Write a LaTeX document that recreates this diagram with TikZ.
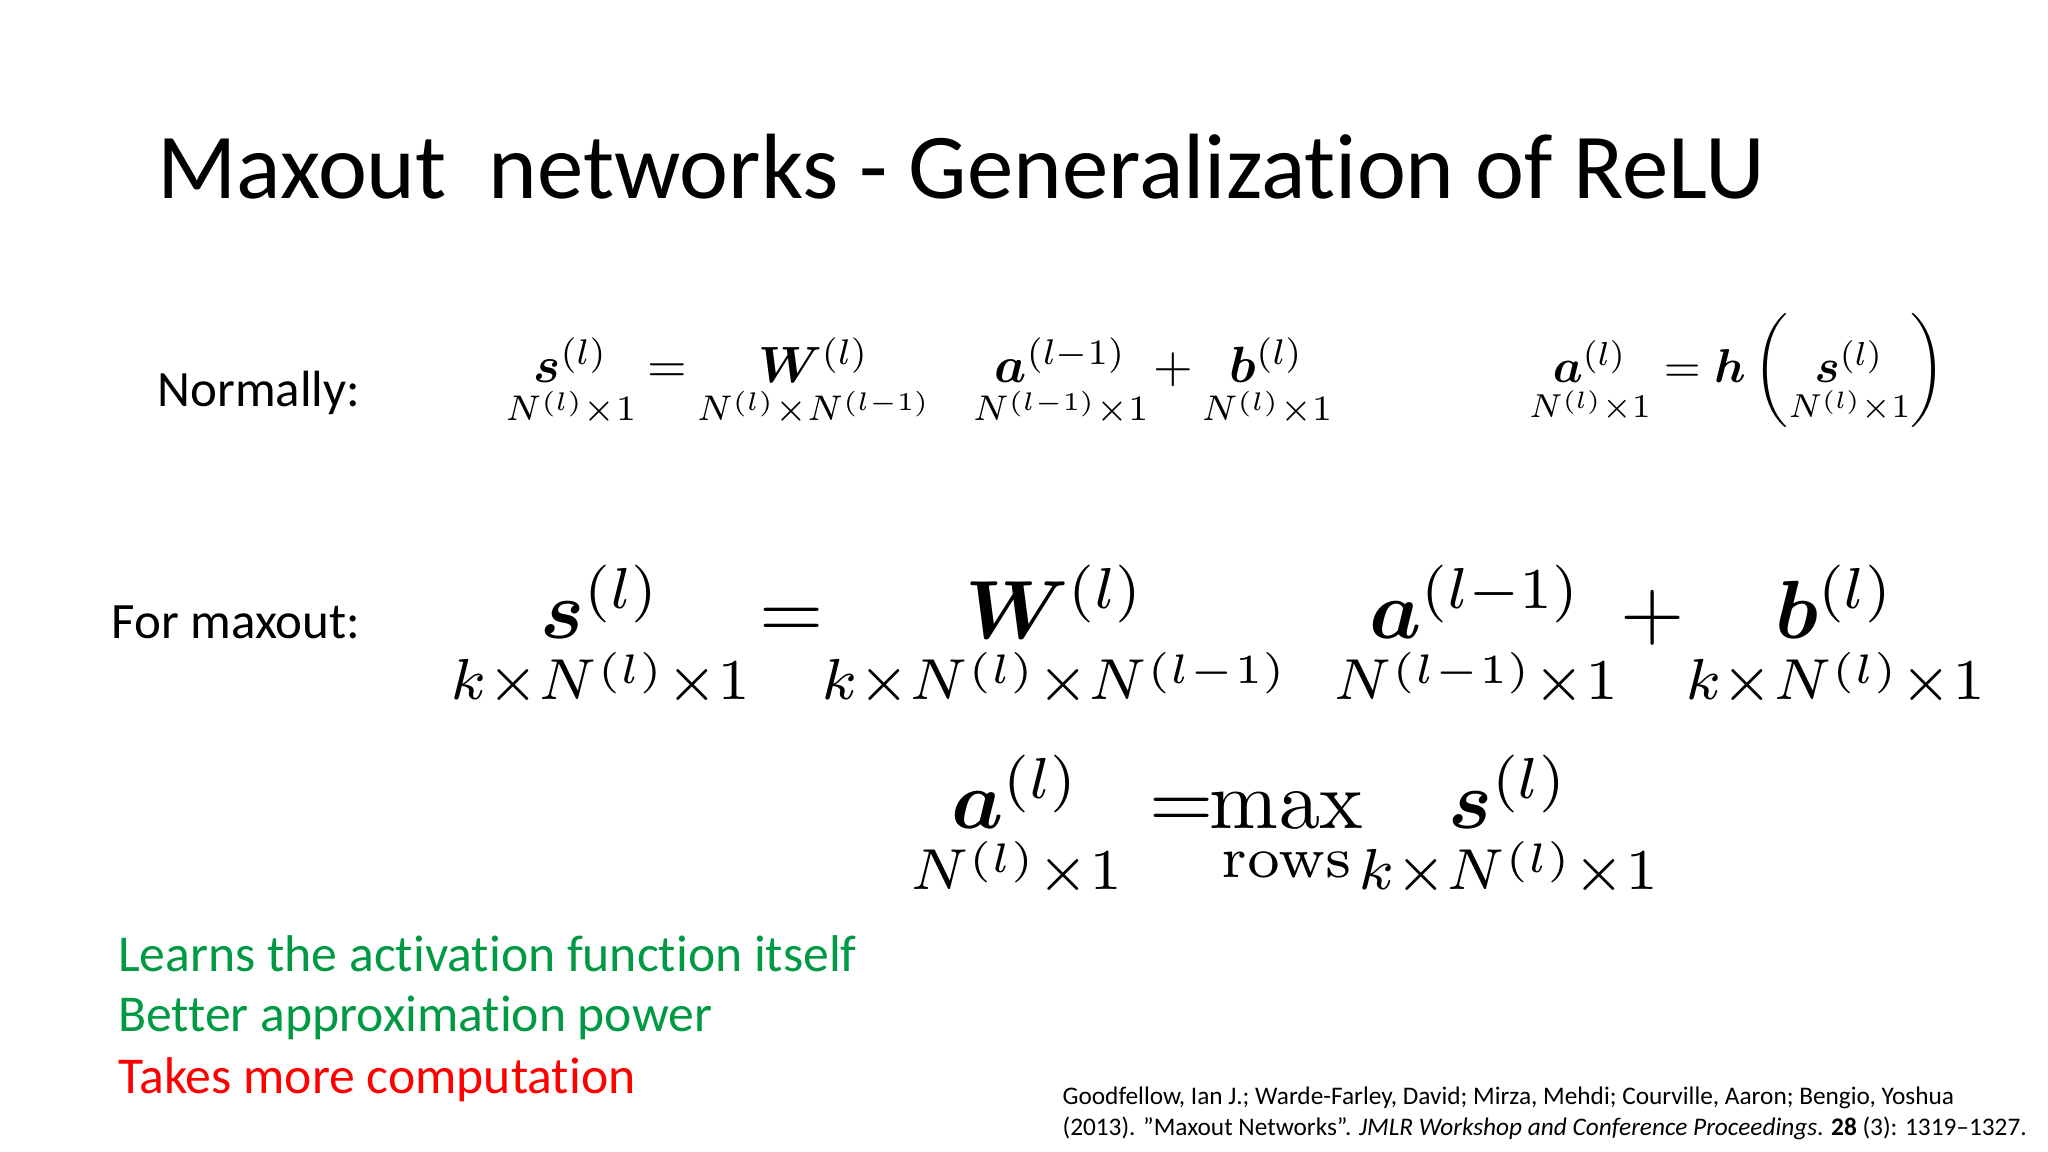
\documentclass[tikz,border=0pt]{standalone}
\usepackage{amsmath,bm,graphicx}
\usepackage[no-math]{fontspec}
\setmainfont[RawFeature=-liga]{Carlito}
\definecolor{goodgreen}{RGB}{0,153,68}
\definecolor{badred}{RGB}{255,0,0}
\begin{document}
\begin{tikzpicture}[x=0.013061cm,y=-0.013061cm,
  txt/.style={anchor=base west,inner sep=0pt},
  mth/.style={anchor=base,inner sep=0pt}]
\useasboundingbox[fill=white] (0,0) rectangle (1568,882);
\node[txt,font=\fontsize{26.4}{32}\selectfont] (title) at (120,152) {Maxout\ \ networks - Generalization of ReLU};
\node[txt,font=\fontsize{14.5}{18}\selectfont] (norm) at (120,311) {Normally:};
\node[txt,font=\fontsize{14.5}{18}\selectfont] (maxo) at (85,489) {For maxout:};
% normal row
\newcommand{\ns}[1]{\scalebox{1.45}{$#1$}}
\node[mth] (n1) at (437,293) {\ns{\underset{N^{(l)}\times 1}{\bm{s}^{(l)}}}};
\node[mth] (n2) at (511,293) {\ns{=}};
\node[mth] (n3) at (623,293) {\ns{\underset{N^{(l)}\times N^{(l-1)}}{\bm{W}^{(l)}}}};
\node[mth] (n4) at (812,293) {\ns{\underset{N^{(l-1)}\times 1}{\bm{a}^{(l-1)}}}};
\node[mth] (n5) at (898,293) {\ns{+}};
\node[mth] (n6) at (970,293) {\ns{\underset{N^{(l)}\times 1}{\bm{b}^{(l)}}}};
\node[mth] (n7) at (1330,293) {\scalebox{1.35}{$\underset{N^{(l)}\times 1}{\bm{a}^{(l)}}=\bm{h}\left(\underset{N^{(l)}\times 1}{\bm{s}^{(l)}}\right)$}};
% maxout row
\newcommand{\bs}[1]{\scalebox{2.35}{$#1$}}
\node[mth] (m1) at (460,489) {\bs{\underset{k\times N^{(l)}\times 1}{\bm{s}^{(l)}}}};
\node[mth] (m2) at (606,489) {\bs{=}};
\node[mth] (m3) at (808,489) {\bs{\underset{k\times N^{(l)}\times N^{(l-1)}}{\bm{W}^{(l)}}}};
\node[mth] (m4) at (1130,489) {\bs{\underset{N^{(l-1)}\times 1}{\bm{a}^{(l-1)}}}};
\node[mth] (m5) at (1265,489) {\bs{+}};
\node[mth] (m6) at (1405,489) {\bs{\underset{k\times N^{(l)}\times 1}{\bm{b}^{(l)}}}};
\node[mth] (r1) at (778,634) {\bs{\underset{N^{(l)}\times 1}{\bm{a}^{(l)}}}};
\node[mth] (r2a) at (905,634) {\bs{=}};
\node[mth] (r2) at (985,634) {\bs{\underset{\rm rows}{\rm max}}};
\node[mth] (r3) at (1155,634) {\bs{\underset{k\times N^{(l)}\times 1}{\bm{s}^{(l)}}}};
% bullets
\node[txt,font=\fontsize{14.7}{18}\selectfont,text=goodgreen] (g1) at (90,744) {Learns the activation function itself};
\node[txt,font=\fontsize{14.7}{18}\selectfont,text=goodgreen] (g2) at (90,790) {Better approximation power};
\node[txt,font=\fontsize{14.7}{18}\selectfont,text=badred] (r) at (90,837) {Takes more computation};
% citation
\node[txt,font=\fontsize{7.2}{9}\selectfont] (c1) at (813,846) {Goodfellow, Ian J.; Warde-Farley, David; Mirza, Mehdi; Courville, Aaron; Bengio, Yoshua};
\node[txt,font=\fontsize{7.2}{9}\selectfont] (c2) at (813,869) {(2013). \char34 Maxout Networks\char34 . \textit{JMLR Workshop and Conference Proceedings}. \textbf{28} (3): 1319–1327.};
\end{tikzpicture}
\end{document}
